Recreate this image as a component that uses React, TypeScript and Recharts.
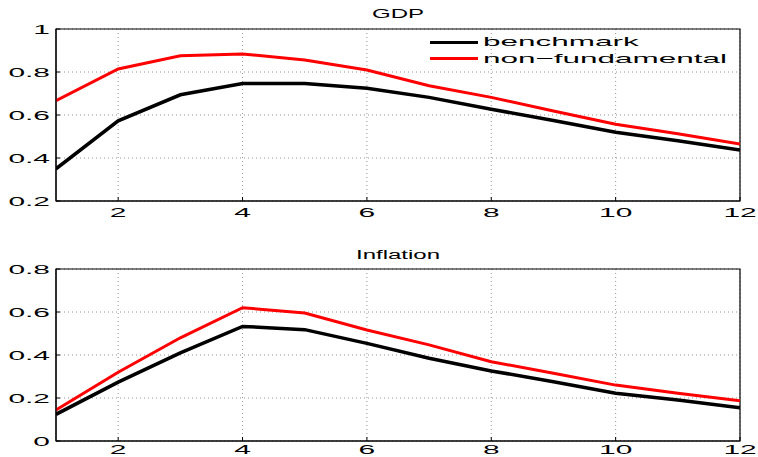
import React from "react";
import {
  LineChart,
  Line,
  XAxis,
  YAxis,
  CartesianGrid,
  ReferenceArea,
} from "recharts";

const steps = [1, 2, 3, 4, 5, 6, 7, 8, 9, 10, 11, 12];
const gdpBenchmark = [0.35, 0.573, 0.694, 0.746, 0.747, 0.724, 0.682, 0.627, 0.574, 0.52, 0.48, 0.437];
const gdpNonFundamental = [0.667, 0.814, 0.876, 0.884, 0.856, 0.809, 0.736, 0.682, 0.619, 0.557, 0.513, 0.465];
const inflBenchmark = [0.124, 0.274, 0.41, 0.533, 0.518, 0.454, 0.385, 0.326, 0.276, 0.222, 0.191, 0.155];
const inflNonFundamental = [0.144, 0.32, 0.48, 0.62, 0.595, 0.516, 0.447, 0.369, 0.315, 0.26, 0.222, 0.187];

const xTicks = [2, 4, 6, 8, 10, 12];
const gdpTicks = [0.2, 0.4, 0.6, 0.8, 1];
const inflTicks = [0, 0.2, 0.4, 0.6, 0.8];

const seriesNames = ["benchmark", "non\u2212fundamental"];
const seriesColors = ["#000", "#ff0000"];

const gdpData = steps.map((s, i) => ({ step: s, benchmark: gdpBenchmark[i], nonfund: gdpNonFundamental[i] }));
const inflData = steps.map((s, i) => ({ step: s, benchmark: inflBenchmark[i], nonfund: inflNonFundamental[i] }));

const FONT = "'Liberation Sans', Arial, sans-serif";
const W = 758;

// the reference text is stretched sideways, so widen ours the same way
const YTick = (props: any) => {
  const { x, y, payload } = props;
  return (
    <text
      transform={`translate(${x},${y}) scale(2.3,1)`}
      textAnchor="end"
      dy="0.35em"
      fontFamily={FONT}
      fontSize={13}
      fill="#000"
    >
      {String(payload.value)}
    </text>
  );
};

const XTick = (props: any) => {
  const { x, y, payload } = props;
  return (
    <text
      transform={`translate(${x},${y}) scale(2.3,1)`}
      textAnchor="middle"
      dy="0.71em"
      fontFamily={FONT}
      fontSize={13}
      fill="#000"
    >
      {String(payload.value)}
    </text>
  );
};

const LegendBox = () => (
  <div style={{ position: "absolute", left: 430, top: 34, fontFamily: FONT, fontSize: 13, lineHeight: "16.5px" }}>
    {seriesNames.map((name, i) => (
      <div key={name} style={{ display: "flex", alignItems: "center", whiteSpace: "nowrap" }}>
        <span style={{ display: "inline-block", width: 48, height: 3, background: seriesColors[i], marginRight: 5 }} />
        <span style={{ display: "inline-block", transform: "scaleX(2.42)", transformOrigin: "left center" }}>
          {name}
        </span>
      </div>
    ))}
  </div>
);

type PanelProps = {
  data: any[];
  domain: [number, number];
  ticks: number[];
  height: number;
  top: number;
  xHeight: number;
  xGap: number;
};

const Panel = ({ data, domain, ticks, height, top, xHeight, xGap }: PanelProps) => (
  <LineChart width={W} height={height} data={data} margin={{ top, right: 18, bottom: 0, left: 0 }}>
    <CartesianGrid stroke="#777" strokeDasharray="1 3" strokeWidth={0.8} />
    <XAxis
      dataKey="step"
      type="number"
      domain={[1, 12]}
      ticks={xTicks}
      allowDataOverflow
      height={xHeight}
      stroke="#000"
      tickSize={-4}
      tickMargin={xGap}
      tick={<XTick />}
    />
    <YAxis
      type="number"
      domain={domain}
      ticks={ticks}
      allowDataOverflow
      width={56}
      stroke="#000"
      tickSize={-4}
      tickMargin={10}
      tick={<YTick />}
    />
    <ReferenceArea x1={1} x2={12} y1={domain[0]} y2={domain[1]} stroke="#000" strokeWidth={1.2} fill="none" fillOpacity={0} />
    <Line dataKey="benchmark" stroke={seriesColors[0]} strokeWidth={3.5} dot={false} isAnimationActive={false} />
    <Line dataKey="nonfund" stroke={seriesColors[1]} strokeWidth={3} dot={false} isAnimationActive={false} />
  </LineChart>
);

const Title = ({ text, top }: { text: string; top: number }) => (
  <div
    style={{
      position: "absolute",
      left: 398,
      top,
      transform: "translateX(-50%) scaleX(2)",
      fontFamily: FONT,
      fontSize: 12,
      lineHeight: "12px",
      whiteSpace: "nowrap",
      color: "#000",
    }}
  >
    {text}
  </div>
);

export default function App() {
  return (
    <div style={{ position: "absolute", left: 0, top: 0, width: W, height: 457, background: "#fff", overflow: "hidden" }}>
      <div style={{ position: "absolute", left: 0, top: 0 }}>
        <Panel data={gdpData} domain={[0.2, 1]} ticks={gdpTicks} height={230} top={29} xHeight={29} xGap={11} />
      </div>
      <div style={{ position: "absolute", left: 0, top: 230 }}>
        <Panel data={inflData} domain={[0, 0.8]} ticks={inflTicks} height={227} top={39} xHeight={16} xGap={8} />
      </div>
      <LegendBox />
      <Title text="GDP" top={8} />
      <Title text="Inflation" top={249} />
    </div>
  );
}
